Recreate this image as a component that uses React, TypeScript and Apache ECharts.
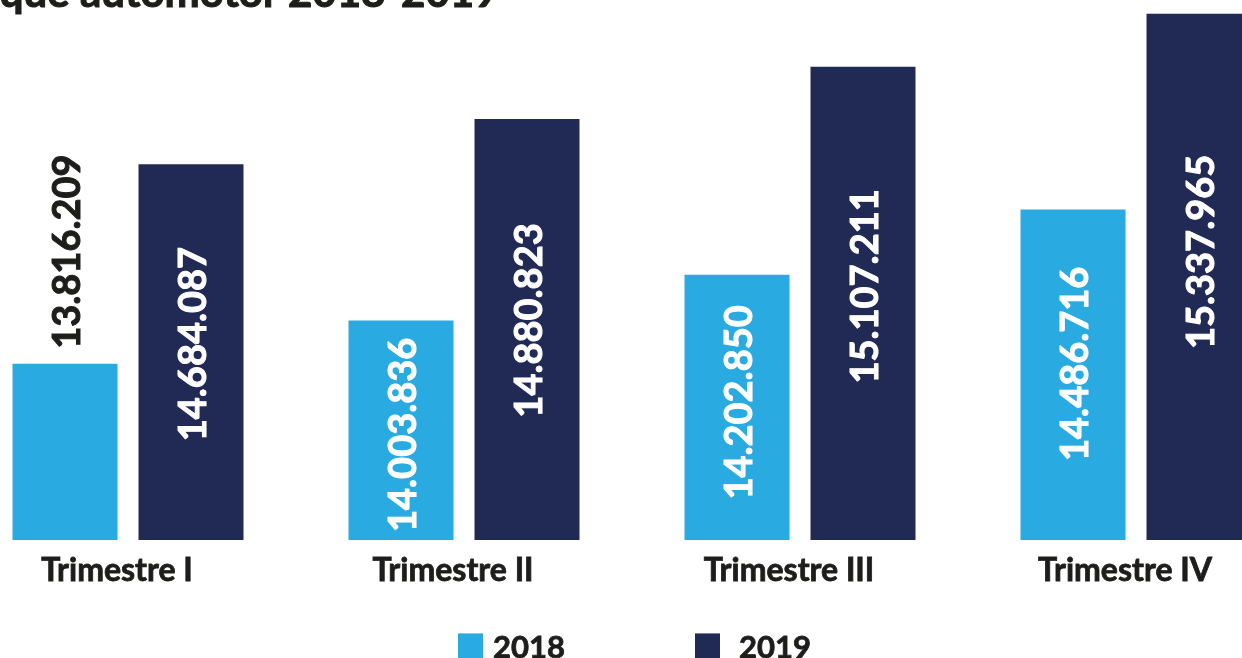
import React, { useEffect, useRef } from "react";
import * as echarts from "echarts";

const categories = ["Trimestre I", "Trimestre II", "Trimestre III", "Trimestre IV"];
const values2018 = [13816209, 14003836, 14202850, 14486716];
const values2019 = [14684087, 14880823, 15107211, 15337965];
const seriesNames = ["2018", "2019"];
const titleText = "Parque automotor 2018-2019";

const COLOR_2018 = "#29abe2";
const COLOR_2019 = "#212a55";
const DARK = "#1d1d1b";
const FONT = "Lato";
const SHIFT = 40; // the chart canvas starts 40px left of the page

const fmt = (v: number) => String(v).replace(/\B(?=(\d{3})+(?!\d))/g, ".");

export default function App() {
  const ref = useRef<HTMLDivElement>(null);
  useEffect(() => {
    if (!ref.current) return;
    const chart = echarts.init(ref.current, undefined, { renderer: "svg" });
    const baseLabel = {
      show: true,
      rotate: 90,
      position: "inside",
      color: "#ffffff",
      textBorderColor: "#ffffff",
      textBorderWidth: 1,
      fontSize: 38,
      fontWeight: "bold",
      fontFamily: FONT,
      formatter: (p: any) => fmt(p.value),
    };
    // label offsets are in the rotated frame: [+d, 0] moves the text up by d
    const data2018 = values2018.map((v, i) => {
      if (i === 0)
        return {
          value: v,
          label: {
            position: "top",
            align: "left",
            verticalAlign: "middle",
            distance: 15,
            color: DARK,
            textBorderColor: DARK,
          },
        };
      if (i === 1)
        return {
          value: v,
          label: { position: "insideBottom", align: "left", verticalAlign: "middle", distance: 8 },
        };
      if (i === 2) return { value: v, label: { offset: [5, 0] } };
      return { value: v, label: { offset: [11, 0] } };
    });
    const offs2019 = [8, 9, 17, 25];
    const data2019 = values2019.map((v, i) => ({ value: v, label: { offset: [offs2019[i], 0] } }));

    const darkText = {
      color: DARK,
      fontWeight: "bold",
      fontFamily: FONT,
      textBorderColor: DARK,
      textBorderWidth: 0.8,
    };

    chart.setOption({
      animation: false,
      grid: { left: 0, right: 0, top: 11, bottom: 118, containLabel: false },
      xAxis: {
        type: "category",
        data: categories,
        axisLine: { show: false },
        axisTick: { show: false },
        splitLine: { show: false },
        axisLabel: {
          ...darkText,
          fontSize: 32,
          margin: 12,
          padding: [0, 22, 0, 0],
        },
      },
      yAxis: {
        type: "value",
        min: 13050000,
        max: 15350000,
        show: false,
        splitLine: { show: false },
      },
      legend: [
        {
          data: [seriesNames[0]],
          left: 458 + SHIFT,
          top: 630,
          itemWidth: 25,
          itemHeight: 25,
          icon: "rect",
          padding: 0,
          textStyle: { ...darkText, fontSize: 31, padding: [0, 0, 0, 5] },
        },
        {
          data: [seriesNames[1]],
          left: 695 + SHIFT,
          top: 630,
          itemWidth: 25,
          itemHeight: 25,
          icon: "rect",
          padding: 0,
          textStyle: { ...darkText, fontSize: 31, padding: [0, 0, 0, 14] },
        },
      ],
      graphic: [
        {
          type: "text",
          x: -62 + SHIFT,
          y: -9,
          style: {
            text: titleText,
            fill: DARK,
            stroke: DARK,
            lineWidth: 1,
            font: `bold 42px ${FONT}`,
            verticalAlign: "middle",
          },
        },
      ],
      series: [
        {
          name: seriesNames[0],
          type: "bar",
          data: data2018,
          barWidth: 105,
          barGap: "20%",
          itemStyle: { color: COLOR_2018 },
          label: baseLabel,
        },
        {
          name: seriesNames[1],
          type: "bar",
          data: data2019,
          barWidth: 105,
          itemStyle: { color: COLOR_2019 },
          label: baseLabel,
        },
      ],
    });
    return () => chart.dispose();
  }, []);
  return <div ref={ref} style={{ position: "fixed", left: -SHIFT, top: 0, width: 1344, height: 658 }} />;
}
